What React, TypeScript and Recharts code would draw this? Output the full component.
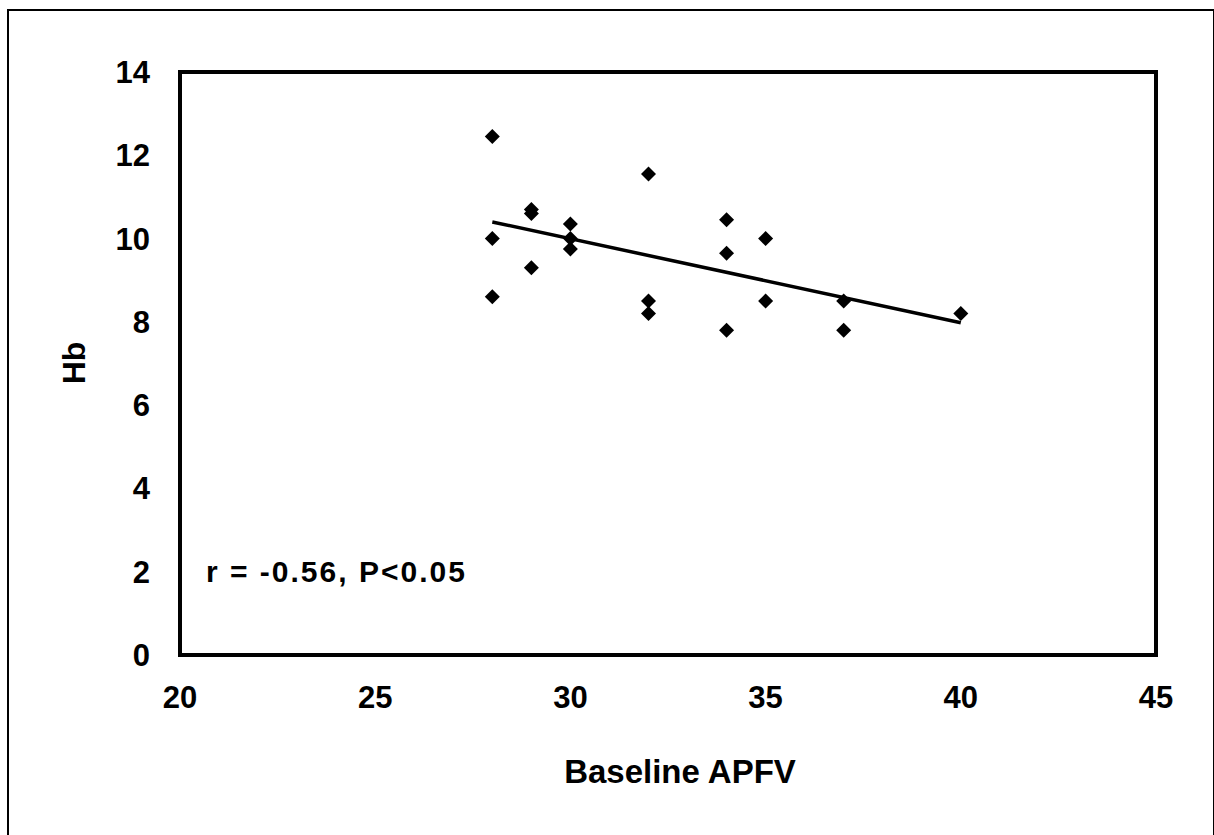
import {
  ScatterChart,
  Scatter,
  XAxis,
  YAxis,
  ReferenceArea,
  ReferenceLine,
  Label,
} from "recharts";

// Baseline APFV vs Hb
const apfv = [28, 28, 28, 29, 29, 29, 30, 30, 30, 32, 32, 32, 34, 34, 34, 35, 35, 37, 37, 40];
const hb = [12.45, 10.0, 8.6, 10.7, 10.6, 9.3, 10.35, 10.0, 9.75, 11.55, 8.5, 8.2, 10.45, 9.65, 7.8, 10.0, 8.5, 8.5, 7.8, 8.2];

// fitted line end points as drawn in the figure
const trendX = [28, 40];
const trendY = [10.4, 7.98];

const xTicks = [20, 25, 30, 35, 40, 45];
const yTicks = [0, 2, 4, 6, 8, 10, 12, 14];

const points = apfv.map((x, i) => ({ x, y: hb[i] }));

const FONT = "'Liberation Sans', Arial, Helvetica, sans-serif";

const Diamond = (props: any) => {
  const { cx, cy } = props;
  const r = 7.5;
  return (
    <polygon
      points={`${cx},${cy - r} ${cx + r},${cy} ${cx},${cy + r} ${cx - r},${cy}`}
      fill="#000"
    />
  );
};

export default function App() {
  const tickStyle = { fontSize: 31, fontWeight: "bold", fill: "#000", fontFamily: FONT };

  return (
    <div
      style={{
        position: "absolute",
        left: 0,
        top: 0,
        width: 1214,
        height: 835,
        overflow: "hidden",
        background: "#fff",
      }}
    >
      {/* outer frame of the scanned figure */}
      <div
        style={{
          position: "absolute",
          left: 7,
          top: 9,
          width: 1204,
          height: 900,
          border: "2px solid #000",
          pointerEvents: "none",
        }}
      />
      <ScatterChart
        width={1214}
        height={835}
        margin={{ top: 72, right: 58, bottom: 0, left: 0 }}
      >
        <XAxis
          type="number"
          dataKey="x"
          domain={[20, 45]}
          ticks={xTicks}
          height={180}
          axisLine={false}
          tickLine={false}
          tickSize={0}
          tickMargin={31}
          tick={tickStyle}
        >
          <Label
            content={() => (
              <text
                x={680}
                y={783}
                textAnchor="middle"
                fontSize={33}
                fontWeight="bold"
                fontFamily={FONT}
                fill="#000"
              >
                Baseline APFV
              </text>
            )}
          />
        </XAxis>
        <YAxis
          type="number"
          dataKey="y"
          domain={[0, 14]}
          ticks={yTicks}
          width={180}
          axisLine={false}
          tickLine={false}
          tickSize={0}
          tickMargin={30}
          tick={tickStyle}
        >
          <Label
            content={() => (
              <text
                x={85}
                y={363}
                transform="rotate(-90 85 363)"
                textAnchor="middle"
                fontSize={32}
                fontWeight="bold"
                fontFamily={FONT}
                fill="#000"
              >
                Hb
              </text>
            )}
          />
        </YAxis>
        <ReferenceArea
          x1={20}
          x2={45}
          y1={0}
          y2={14}
          fill="none"
          stroke="#000"
          strokeWidth={4}
          fillOpacity={0}
        >
          <Label
            content={(p: any) => (
              <text
                x={p.viewBox.x + 26}
                y={p.viewBox.y + 510}
                fontSize={30}
                fontWeight="bold"
                fontFamily={FONT}
                letterSpacing={2}
                fill="#000"
              >
                r = -0.56, P&lt;0.05
              </text>
            )}
          />
        </ReferenceArea>
        <ReferenceLine
          segment={[
            { x: trendX[0], y: trendY[0] },
            { x: trendX[1], y: trendY[1] },
          ]}
          stroke="#000"
          strokeWidth={3.5}
        />
        <Scatter data={points} shape={Diamond} isAnimationActive={false} />
      </ScatterChart>
    </div>
  );
}
